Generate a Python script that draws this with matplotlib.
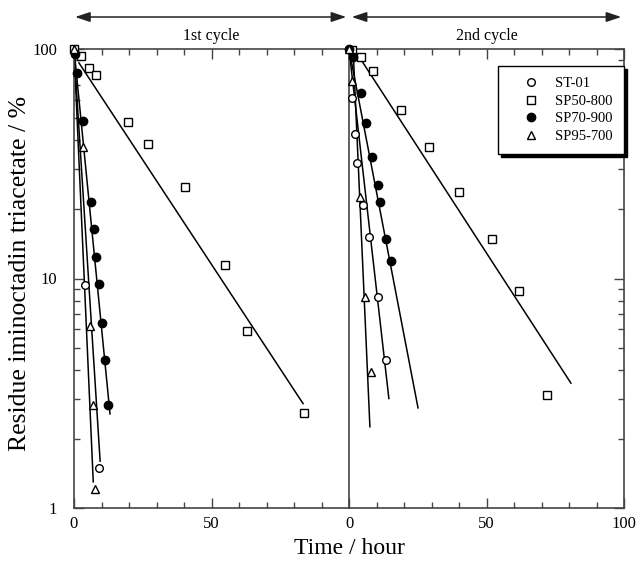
import matplotlib
matplotlib.use("Agg")
import matplotlib.pyplot as plt
from matplotlib.ticker import MultipleLocator, LogLocator, NullFormatter
import numpy as np

plt.rcParams['font.family'] = ['Liberation Serif', 'DejaVu Serif']

series_names = ["ST-01", "SP50-800", "SP70-900", "SP95-700"]

# ---- 1st cycle data (time h, residue %) ----
c1_st01_t = [0, 4.0, 9.1]
c1_st01_y = [100, 9.4, 1.5]
c1_sp50_t = [0, 2.5, 5.5, 8.0, 19.6, 26.9, 40.4, 54.9, 62.9, 83.6]
c1_sp50_y = [100, 93, 83, 77, 48, 38.5, 25, 11.4, 5.9, 2.6]
c1_sp70_t = [0.2, 1.1, 3.3, 6.2, 7.3, 8.0, 9.1, 10.2, 11.3, 12.4]
c1_sp70_y = [95, 78.5, 48.5, 21.5, 16.4, 12.4, 9.5, 6.4, 4.4, 2.8]
c1_sp95_t = [0, 3.3, 5.8, 6.9, 7.6]
c1_sp95_y = [100, 37.3, 6.2, 2.8, 1.21]

# ---- 2nd cycle data ----
c2_st01_t = [0, 1.1, 2.2, 2.9, 5.1, 7.3, 10.5, 13.5]
c2_st01_y = [100, 61, 42.6, 31.8, 21, 15.1, 8.3, 4.4]
c2_sp50_t = [1.2, 4.4, 8.7, 18.9, 29.1, 40.0, 52.0, 61.8, 72.0]
c2_sp50_y = [99, 92, 80, 54, 37.3, 23.8, 14.8, 8.8, 3.1]
c2_sp70_t = [0, 1.5, 4.4, 6.2, 8.4, 10.5, 11.3, 13.5, 15.3]
c2_sp70_y = [100, 92, 64, 47.5, 33.7, 25.5, 21.5, 14.8, 11.9]
c2_sp95_t = [0, 1.1, 4.0, 5.8, 8.0]
c2_sp95_y = [100, 72.4, 22.6, 8.3, 3.9]

# ---- fitted lines: (t_start, t_end), (y_start, y_end) ----
c1_fit_st01 = ([0, 9.5], [98, 1.6])
c1_fit_sp50 = ([1.8, 83.3], [87, 2.85])
c1_fit_sp70 = ([0, 13.1], [100, 2.57])
c1_fit_sp95 = ([0, 7.0], [100, 1.3])
c2_fit_st01 = ([0, 14.5], [100, 3.0])
c2_fit_sp50 = ([4.7, 80.7], [88.6, 3.5])
c2_fit_sp70 = ([0, 25.1], [100, 2.73])
c2_fit_sp95 = ([1.5, 7.6], [100, 2.26])

cycle_labels = ["1st cycle", "2nd cycle"]
x_label = "Time / hour"
y_label = "Residue iminoctadin triacetate / %"

W, H = 637, 562
fig = plt.figure(figsize=(W / 100, H / 100), dpi=100)
L, R, T, B = 74, 624, 49, 508
mid = 349
ax1 = fig.add_axes([L / W, 1 - B / H, (mid - L) / W, (B - T) / H])
ax2 = fig.add_axes([mid / W, 1 - B / H, (R - mid) / W, (B - T) / H])

spine_col = '#444444'
styles = {
    "ST-01": dict(marker='o', mfc='white', mec='black', ms=5.5),
    "SP50-800": dict(marker='s', mfc='white', mec='black', ms=5.5),
    "SP70-900": dict(marker='o', mfc='black', mec='black', ms=6),
    "SP95-700": dict(marker='^', mfc='white', mec='black', ms=6),
}

def draw(ax, data, fits):
    for name, (fx, fy) in zip(series_names, fits):
        ax.plot(fx, fy, color='black', lw=1.1, zorder=2)
    for name, (t, y) in zip(series_names, data):
        ax.plot(t, y, ls='none', mew=1.0, zorder=3, label=name, clip_on=False, **styles[name])

draw(ax1, [(c1_st01_t, c1_st01_y), (c1_sp50_t, c1_sp50_y), (c1_sp70_t, c1_sp70_y), (c1_sp95_t, c1_sp95_y)],
     [c1_fit_st01, c1_fit_sp50, c1_fit_sp70, c1_fit_sp95])
draw(ax2, [(c2_st01_t, c2_st01_y), (c2_sp50_t, c2_sp50_y), (c2_sp70_t, c2_sp70_y), (c2_sp95_t, c2_sp95_y)],
     [c2_fit_st01, c2_fit_sp50, c2_fit_sp70, c2_fit_sp95])

for ax in (ax1, ax2):
    ax.set_yscale('log')
    ax.set_ylim(1, 100)
    ax.set_xlim(0, 100)
    ax.xaxis.set_minor_locator(MultipleLocator(10))
    ax.yaxis.set_minor_locator(LogLocator(base=10, subs=np.arange(2, 10)))
    ax.yaxis.set_minor_formatter(NullFormatter())
    for s in ax.spines.values():
        s.set_color(spine_col)
        s.set_linewidth(1.2)
    ax.tick_params(which='both', direction='in', top=True, color=spine_col, width=1.0,
                   labelsize=12)
    ax.tick_params(axis='x', pad=6)
    ax.tick_params(axis='y', pad=12)
    ax.tick_params(which='major', length=7)
    ax.tick_params(which='minor', length=4)

ax1.set_xticks([0, 50])
ax1.set_xticklabels(["0", "50"])
ax1.tick_params(which='both', right=False)
ax1.set_yticks([1, 10, 100])
ax1.set_yticklabels(["1", "10", "100"])
ax1.spines['right'].set_visible(False)

ax2.set_xticks([0, 50, 100])
ax2.set_xticklabels(["0", "50", "100"])
ax2.set_yticks([1, 10, 100])
ax2.tick_params(which='both', left=False, right=True, labelleft=False)

ax1.set_ylabel(y_label, fontsize=18.5)
ax1.yaxis.set_label_coords((31 - L) / (mid - L), (B - 273.5) / (B - T))
fig.text(mid / W, 1 - 548 / H, x_label, fontsize=17, ha='center', va='center')

# cycle arrows
for ax, lab, xr in ((ax1, cycle_labels[0], (0.4, 99.0)), (ax2, cycle_labels[1], (1.0, 99.0))):
    trans = ax.get_xaxis_transform()
    yarr = 1 + (T - 17) / (B - T)
    ax.annotate('', xy=(xr[0], yarr), xytext=(xr[1], yarr), xycoords=trans, textcoords=trans,
                arrowprops=dict(arrowstyle='<|-|>,head_length=0.9,head_width=0.3', color='#222222',
                                lw=1.1, shrinkA=0, shrinkB=0), annotation_clip=False)
    ax.text(50, 1 + (T - 36) / (B - T), lab, transform=trans, ha='center', va='center', fontsize=11.5)

leg = ax2.legend(loc='upper right', bbox_to_anchor=(1.0, 1 - (66 - T) / (B - T)), borderaxespad=0,
                 fontsize=10.5, frameon=True, fancybox=False, handlelength=3.0, handletextpad=0.2,
                 labelspacing=0.3, borderpad=0.75, shadow={'color': 'black', 'alpha': 1})
leg.get_frame().set_edgecolor('black')
leg.get_frame().set_linewidth(1.0)

fig.savefig('out.png', dpi=100)
